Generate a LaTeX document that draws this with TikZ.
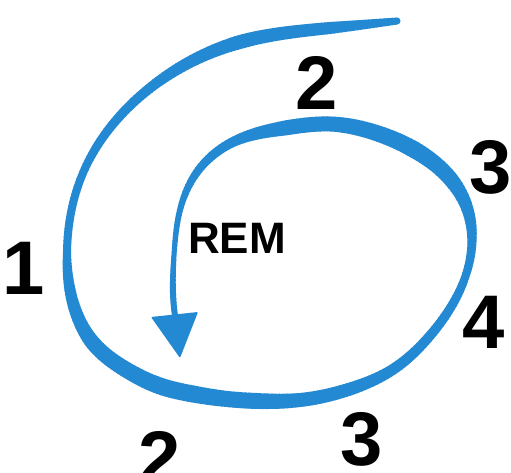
\documentclass[tikz,border=0pt]{standalone}
\usepackage{fontspec}
\setmainfont{Liberation Sans}
\usetikzlibrary{hobby}
\definecolor{remblue}{RGB}{36,137,211}
\tikzset{
  stage/.style={font=\fontsize{76}{76}\selectfont\bfseries, inner sep=0pt},
  remlabel/.style={font=\fontsize{44}{44}\selectfont\bfseries, inner sep=0pt}
}
\begin{document}
\begin{tikzpicture}[x=1pt,y=-1pt]
	\useasboundingbox[fill=white] (0,0) rectangle (511,473);

	\coordinate (tip) at (397,21);
	\coordinate (end) at (175,316);
	\coordinate (a) at (151,317);
	\coordinate (b) at (198,312);
	\coordinate (c) at (180,358);

	% centre line of the spiral
	\path[save path=\spiralpath] (tip) to[curve through={(330,28) .. (240,42) .. (150,88) .. (83,173) .. (67,253) .. (70,290) .. (80,322) .. (93,343) .. (125,369) .. (160,386) .. (193,394) .. (227,399) .. (257,401) .. (300,400) .. (350,389) .. (395,368) .. (428,338) .. (455,300) .. (468,268) .. (472,240) .. (466,205) .. (447,175) .. (413,149) .. (370,131) .. (330,124) .. (285,128) .. (233,142) .. (195,175) .. (180,210) .. (174,255) .. (173,293)}] (end);

	% spiral drawn piece by piece, each piece with its own width
	\foreach \sa/\wa/\sb/\wb in {0/7/67/12, 67/12/158/14, 158/14/261/10, 261/10/369/8,
			369/8/451/8, 451/8/488/11, 488/11/522/13, 522/13/547/15, 547/15/592/16,
			592/16/627/17, 627/17/661/17, 661/17/695/16, 695/16/725/16, 725/16/768/14,
			768/14/819/13, 819/13/863/11, 863/11/903/10, 903/10/953/9, 953/9/990/8,
			990/8/1023/9, 1023/9/1056/12, 1056/12/1088/15, 1088/15/1137/17,
			1137/17/1184/16, 1184/16/1225/15, 1225/15/1270/15, 1270/15/1324/10,
			1324/10/1374/8, 1374/8/1412/6, 1412/6/1458/5, 1458/5/1496/6, 1496/6/1650/6}{
		\pgfmathsetmacro{\nsteps}{int(ceil((\sb-\sa)/4))}
		\foreach \k in {1,...,\nsteps}{
			\pgfmathsetmacro{\ta}{\sa+(\k-1)*(\sb-\sa)/\nsteps}
			\pgfmathsetmacro{\tlen}{(\sb-\sa)/\nsteps+0.8}
			\pgfmathsetmacro{\tw}{\wa+(\wb-\wa)*(\k-0.5)/\nsteps}
			\draw[remblue, line width=\tw pt, dash pattern=on 0pt off \ta pt on \tlen pt off 4000pt, use path=\spiralpath];
		}
	}
	\fill[remblue] (tip) circle (3.5pt);
	\fill[remblue, rounded corners=1pt] (a) -- (b) -- (c) -- cycle;

	\node[stage] (one) at (24,268) {1};
	\node[stage] (twotop) at (317,83) {2};
	\node[stage] (threeright) at (491,167) {3};
	\node[stage] (four) at (484,322) {4};
	\node[stage] (twobottom) at (160,458) {2};
	\node[stage] (threebottom) at (362,439) {3};
	\node[remlabel] (rem) at (237,238) {REM};
\end{tikzpicture}
\end{document}
